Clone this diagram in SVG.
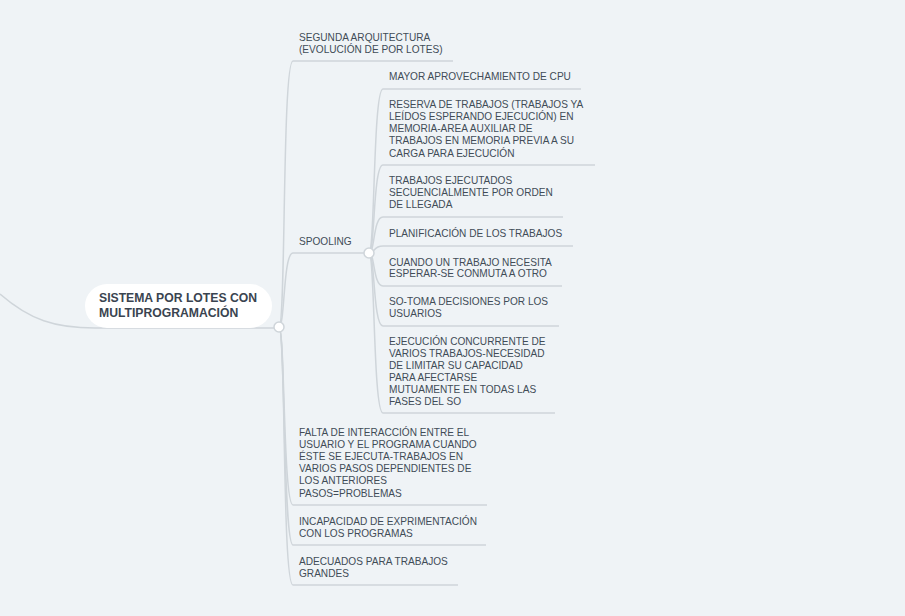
<svg xmlns="http://www.w3.org/2000/svg" width="905" height="616" viewBox="0 0 905 616">
<style>
.t{font-family:"Liberation Sans",Arial,sans-serif;font-size:10.1px;fill:#414c57}
.r{font-family:"Liberation Sans",Arial,sans-serif;font-size:12.2px;font-weight:bold;fill:#3a4450}
.c{fill:none;stroke:#cfd5da;stroke-width:1.5}
.k{fill:#ffffff;stroke:#cfd5da;stroke-width:1.5}
</style>
<rect width="905" height="616" fill="#eff3f6"/>
<g id="connectors">
<path class="c" d="M0,294 C30,320 55,328 95,328 L279,328"/>
<path class="c" d="M279,327 C286,327 282,61 293,61 L453,61"/>
<path class="c" d="M279,327 C285,327 283,253 293,253 L369,253"/>
<path class="c" d="M279,327 C285,327 283,505 293,505 L487,505"/>
<path class="c" d="M279,327 C285,327 283,545 293,545 L486,545"/>
<path class="c" d="M279,327 C286,327 282,585 293,585 L458,585"/>
<path class="c" d="M369,253 C375,253 373,89 383,89 L581,89"/>
<path class="c" d="M369,253 C375,253 373,165 383,165 L595,165"/>
<path class="c" d="M369,253 C375,253 373,217 383,217 L563,217"/>
<path class="c" d="M369,253 C375,253 373,246 383,246 L573,246"/>
<path class="c" d="M369,253 C375,253 373,286 383,286 L562,286"/>
<path class="c" d="M369,253 C375,253 373,326 383,326 L559,326"/>
<path class="c" d="M369,253 C375,253 373,413 383,413 L555,413"/>
<circle class="k" cx="279" cy="327" r="5"/>
<circle class="k" cx="369" cy="253" r="5"/>
</g>
<g id="root">
<rect x="85" y="284" width="187" height="44" rx="22" fill="#ffffff"/>
<text class="r" x="99" y="302">SISTEMA POR LOTES CON</text>
<text class="r" x="99" y="317">MULTIPROGRAMACIÓN</text>
</g>
<g id="n1"><text class="t" x="299" y="41">SEGUNDA ARQUITECTURA</text><text class="t" x="299" y="53">(EVOLUCIÓN DE POR LOTES)</text></g>
<g id="n2"><text class="t" x="299" y="245">SPOOLING</text></g>
<g id="n2a"><text class="t" x="389" y="80">MAYOR APROVECHAMIENTO DE CPU</text></g>
<g id="n2b"><text class="t" x="389" y="108">RESERVA DE TRABAJOS (TRABAJOS YA</text><text class="t" x="389" y="120">LEÍDOS ESPERANDO EJECUCIÓN) EN</text><text class="t" x="389" y="132">MEMORIA-AREA AUXILIAR DE</text><text class="t" x="389" y="144">TRABAJOS EN MEMORIA PREVIA A SU</text><text class="t" x="389" y="157">CARGA PARA EJECUCIÓN</text></g>
<g id="n2c"><text class="t" x="389" y="184">TRABAJOS EJECUTADOS</text><text class="t" x="389" y="196">SECUENCIALMENTE POR ORDEN</text><text class="t" x="389" y="208">DE LLEGADA</text></g>
<g id="n2d"><text class="t" x="389" y="237">PLANIFICACIÓN DE LOS TRABAJOS</text></g>
<g id="n2e"><text class="t" x="389" y="266">CUANDO UN TRABAJO NECESITA</text><text class="t" x="389" y="277">ESPERAR-SE CONMUTA A OTRO</text></g>
<g id="n2f"><text class="t" x="389" y="305">SO-TOMA DECISIONES POR LOS</text><text class="t" x="389" y="317">USUARIOS</text></g>
<g id="n2g"><text class="t" x="389" y="345">EJECUCIÓN CONCURRENTE DE</text><text class="t" x="389" y="357">VARIOS TRABAJOS-NECESIDAD</text><text class="t" x="389" y="369">DE LIMITAR SU CAPACIDAD</text><text class="t" x="389" y="381">PARA AFECTARSE</text><text class="t" x="389" y="393">MUTUAMENTE EN TODAS LAS</text><text class="t" x="389" y="405">FASES DEL SO</text></g>
<g id="n3"><text class="t" x="299" y="436">FALTA DE INTERACCIÓN ENTRE EL</text><text class="t" x="299" y="448">USUARIO Y EL PROGRAMA CUANDO</text><text class="t" x="299" y="460">ÉSTE SE EJECUTA-TRABAJOS EN</text><text class="t" x="299" y="472">VARIOS PASOS DEPENDIENTES DE</text><text class="t" x="299" y="484">LOS ANTERIORES</text><text class="t" x="299" y="497">PASOS=PROBLEMAS</text></g>
<g id="n4"><text class="t" x="299" y="525">INCAPACIDAD DE EXPRIMENTACIÓN</text><text class="t" x="299" y="537">CON LOS PROGRAMAS</text></g>
<g id="n5"><text class="t" x="299" y="565">ADECUADOS PARA TRABAJOS</text><text class="t" x="299" y="577">GRANDES</text></g>
</svg>
